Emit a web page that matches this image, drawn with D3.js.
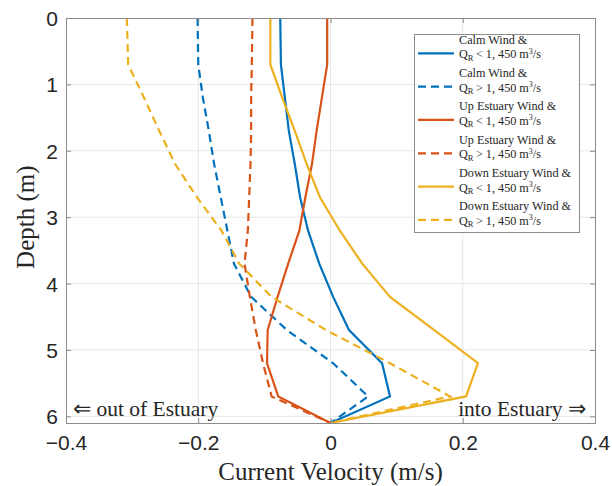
<!DOCTYPE html>
<html>
<head>
<meta charset="utf-8">
<script src="https://cdn.jsdelivr.net/npm/d3@7"></script>
<style>
  body { margin: 0; background: #fff; }
</style>
</head>
<body>
<div id="chart"></div>
<script>
// depth bins (m) and velocity profiles (m/s)
const depths = [0, 0.7, 1.2, 1.7, 2.2, 2.7, 3.2, 3.7, 4.2, 4.7, 5.2, 5.7, 6.1];
const calmLow = [-0.076, -0.075, -0.069, -0.063, -0.054, -0.046, -0.034, -0.017, 0.004, 0.028, 0.078, 0.090, 0];
const calmHigh = [-0.201, -0.200, -0.193, -0.184, -0.176, -0.166, -0.156, -0.146, -0.120, -0.066, 0.004, 0.057, 0];
const upLow = [-0.005, -0.005, -0.013, -0.021, -0.028, -0.038, -0.047, -0.064, -0.080, -0.095, -0.096, -0.079, 0];
const upHigh = [-0.118, -0.119, -0.120, -0.120, -0.121, -0.123, -0.125, -0.130, -0.122, -0.113, -0.102, -0.089, 0];
const downLow = [-0.091, -0.091, -0.073, -0.054, -0.036, -0.016, 0.014, 0.048, 0.090, 0.157, 0.223, 0.205, 0];
const downHigh = [-0.308, -0.306, -0.282, -0.259, -0.235, -0.202, -0.165, -0.138, -0.089, -0.007, 0.090, 0.181, 0];

const windNames = ["Calm Wind", "Calm Wind", "Up Estuary Wind", "Up Estuary Wind", "Down Estuary Wind", "Down Estuary Wind"];
const comparators = ["<", ">", "<", ">", "<", ">"];
const xTicks = [-0.4, -0.2, 0, 0.2, 0.4];
const yTicks = [0, 1, 2, 3, 4, 5, 6];

const series = [calmLow, calmHigh, upLow, upHigh, downLow, downHigh];
const colors = ["#0072BD", "#0072BD", "#D95319", "#D95319", "#EDB120", "#EDB120"];
const dashed = [false, true, false, true, false, true];

const width = 612, height = 486;
const axisColor = "#8c8c8c";
const serif = "'Liberation Serif', 'Times New Roman', serif";
const sans = "'Liberation Sans', Arial, sans-serif";

const x = d3.scaleLinear().domain([-0.4, 0.4]).range([66, 595]);
const y = d3.scaleLinear().domain([0, 6.1]).range([18, 423]);

const svg = d3.select("#chart").append("svg")
    .attr("width", width)
    .attr("height", height);

// grid
svg.append("g")
    .attr("stroke", "#e6e6e6")
    .attr("stroke-width", 1)
    .call(g => g.selectAll(".gx")
        .data(xTicks.slice(1, -1))
        .join("line")
        .attr("x1", d => x(d)).attr("x2", d => x(d))
        .attr("y1", y(0)).attr("y2", y(6.1)))
    .call(g => g.selectAll(".gy")
        .data(yTicks.slice(1))
        .join("line")
        .attr("x1", x(-0.4)).attr("x2", x(0.4))
        .attr("y1", d => y(d)).attr("y2", d => y(d)));

// profiles
const line = d3.line()
    .x(d => x(d[0]))
    .y(d => y(d[1]));

svg.append("g")
    .attr("fill", "none")
    .selectAll("path")
    .data(series)
    .join("path")
    .attr("stroke", (d, i) => colors[i])
    .attr("stroke-width", 2.2)
    .attr("stroke-dasharray", (d, i) => dashed[i] ? "8,5" : null)
    .attr("d", d => line(d.map((v, j) => [v, depths[j]])));

// axes box and ticks
const xAxis = d3.axisBottom(x).tickValues(xTicks).tickSize(-5).tickPadding(12)
    .tickFormat(d => d === 0 ? "0" : d3.format(".1f")(d));
const xAxisTop = d3.axisTop(x).tickValues(xTicks).tickSize(-5).tickFormat("");
const yAxis = d3.axisLeft(y).tickValues(yTicks).tickSize(-5).tickPadding(8)
    .tickFormat(d3.format("d"));
const yAxisRight = d3.axisRight(y).tickValues(yTicks).tickSize(-5).tickFormat("");

function styleAxis(g) {
    g.select(".domain").attr("stroke", axisColor);
    g.selectAll(".tick line").attr("stroke", axisColor);
    g.selectAll("text")
        .attr("fill", "#262626")
        .attr("font-family", sans)
        .attr("font-size", 21);
}

svg.append("g").attr("transform", `translate(0,${y(6.1)})`).call(xAxis).call(styleAxis);
svg.append("g").attr("transform", `translate(0,${y(0)})`).call(xAxisTop).call(styleAxis);
svg.append("g").attr("transform", `translate(${x(-0.4)},0)`).call(yAxis).call(styleAxis)
    .selectAll("text").attr("dy", "0.36em");
svg.append("g").attr("transform", `translate(${x(0.4)},0)`).call(yAxisRight).call(styleAxis);

// axis labels
svg.append("text")
    .attr("x", x(0))
    .attr("y", 480)
    .attr("text-anchor", "middle")
    .attr("font-family", serif)
    .attr("font-size", 25)
    .attr("fill", "#262626")
    .text("Current Velocity (m/s)");

svg.append("text")
    .attr("transform", `translate(34,${y(3)}) rotate(-90)`)
    .attr("text-anchor", "middle")
    .attr("font-family", serif)
    .attr("font-size", 25)
    .attr("fill", "#262626")
    .text("Depth (m)");

// direction notes
svg.append("text")
    .attr("x", x(-0.4) + 7)
    .attr("y", 416)
    .attr("font-family", serif)
    .attr("font-size", 21.5)
    .attr("fill", "#262626")
    .text("\u21D0 out of Estuary");

svg.append("text")
    .attr("x", x(0.4) - 9)
    .attr("y", 416)
    .attr("text-anchor", "end")
    .attr("font-family", serif)
    .attr("font-size", 21.5)
    .attr("fill", "#262626")
    .text("into Estuary \u21D2");

// legend
const legend = svg.append("g");
legend.append("rect")
    .attr("x", 414.5).attr("y", 34.5)
    .attr("width", 165).attr("height", 198)
    .attr("fill", "#fff")
    .attr("stroke", axisColor);

const entry = legend.selectAll("g.entry")
    .data(windNames)
    .join("g")
    .attr("class", "entry")
    .attr("transform", (d, i) => `translate(0,${53.3 + i * 33.33})`);

entry.append("line")
    .attr("x1", 418).attr("x2", 454)
    .attr("stroke", (d, i) => colors[i])
    .attr("stroke-width", 2.2)
    .attr("stroke-dasharray", (d, i) => dashed[i] ? "8,5" : null);

entry.append("text")
    .attr("x", 459).attr("y", -9.5)
    .attr("font-family", serif)
    .attr("font-size", 12.2)
    .attr("fill", "#262626")
    .text(d => `${d} &`);

const second = entry.append("text")
    .attr("x", 459).attr("y", 5)
    .attr("font-family", serif)
    .attr("font-size", 12.2)
    .attr("fill", "#262626");
second.append("tspan").text("Q");
second.append("tspan").attr("font-size", 8.5).attr("dy", 2.5).text("R");
second.append("tspan").attr("dy", -2.5).text((d, i) => `\u2009${comparators[i]} 1, 450 m`);
second.append("tspan").attr("font-size", 8).attr("dy", -4.5).text("3");
second.append("tspan").attr("dy", 4.5).text("/s");
</script>
</body>
</html>
